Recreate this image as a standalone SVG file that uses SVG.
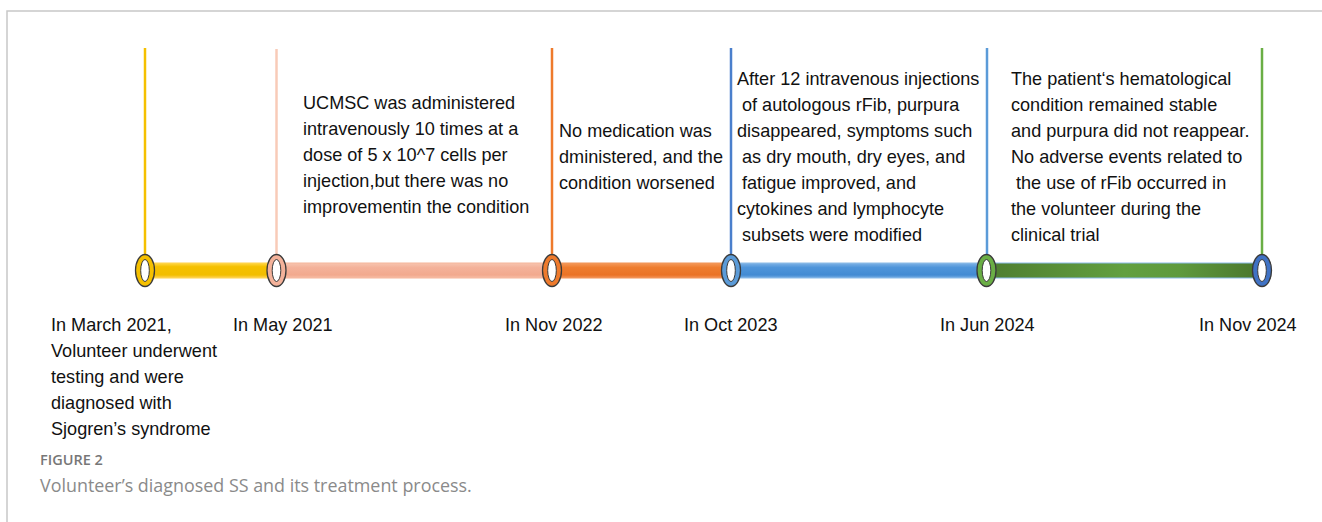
<svg xmlns="http://www.w3.org/2000/svg" width="1322" height="522" viewBox="0 0 1322 522">
  <defs>
    <linearGradient id="gYellow" x1="0" y1="0" x2="0" y2="1">
      <stop offset="0" stop-color="#FFD84A"/>
      <stop offset="0.25" stop-color="#F5C000"/>
      <stop offset="0.8" stop-color="#F2BE00"/>
      <stop offset="1" stop-color="#FFD35A"/>
    </linearGradient>
    <linearGradient id="gSalmon" x1="0" y1="0" x2="0" y2="1">
      <stop offset="0" stop-color="#F7C5B0"/>
      <stop offset="0.3" stop-color="#F4B29A"/>
      <stop offset="0.8" stop-color="#F2A98E"/>
      <stop offset="1" stop-color="#F7BFA8"/>
    </linearGradient>
    <linearGradient id="gOrange" x1="0" y1="0" x2="0" y2="1">
      <stop offset="0" stop-color="#F49A5C"/>
      <stop offset="0.3" stop-color="#EE7D30"/>
      <stop offset="0.8" stop-color="#EA7326"/>
      <stop offset="1" stop-color="#F4945A"/>
    </linearGradient>
    <linearGradient id="gBlue" x1="0" y1="0" x2="0" y2="1">
      <stop offset="0" stop-color="#7FB3E6"/>
      <stop offset="0.3" stop-color="#4F95DA"/>
      <stop offset="0.8" stop-color="#438BD3"/>
      <stop offset="1" stop-color="#78AEE4"/>
    </linearGradient>
    <linearGradient id="gGreen" x1="0" y1="0" x2="1" y2="0">
      <stop offset="0" stop-color="#4E7D30"/>
      <stop offset="0.5" stop-color="#62A040"/>
      <stop offset="0.7" stop-color="#5E9A3D"/>
      <stop offset="1" stop-color="#4A752C"/>
    </linearGradient>
    <style>
      .frame { stroke: #c8c8c8; stroke-width: 1.5; fill: none; }
      .stem { stroke-width: 2.5; fill: none; }
      .bar { stroke-width: 1; }
      .ring { stroke: #3a3a3a; stroke-width: 1.3; }
      .hole { fill: #ffffff; stroke: #3a3a3a; stroke-width: 1; }
      .t { font-family: "Liberation Sans", Arial, sans-serif; font-size: 18.1px; fill: #111111; }
      .cap1 { font-family: "Open Sans", "Noto Sans", sans-serif; font-size: 14.5px; font-weight: 600; fill: #777777; }
      .cap2 { font-family: "Open Sans", "Noto Sans", sans-serif; font-size: 17.9px; fill: #8a8a8a; }
    </style>
  </defs>

  <rect x="0" y="0" width="1322" height="522" fill="#ffffff"/>
  <!-- figure frame -->
  <path class="frame" d="M7,522 V11 H1322"/>

  <!-- connectors: stems and timeline bar segments -->
  <g id="connectors">
    <line class="stem" x1="145" y1="48" x2="145" y2="258" stroke="#F5C000"/>
    <line class="stem" x1="276.5" y1="49" x2="276.5" y2="258" stroke="#F8CBB8"/>
    <line class="stem" x1="552" y1="48" x2="552" y2="258" stroke="#EE7A2C"/>
    <line class="stem" x1="731" y1="48" x2="731" y2="258" stroke="#4A7FCC"/>
    <line class="stem" x1="987" y1="48" x2="987" y2="258" stroke="#5B9BD8"/>
    <line class="stem" x1="1262" y1="48" x2="1262" y2="258" stroke="#6AAE45"/>

    <rect class="bar" x="145" y="263" width="132" height="15" fill="url(#gYellow)" stroke="#FFD24A"/>
    <rect class="bar" x="277" y="263" width="275" height="15" fill="url(#gSalmon)" stroke="#F6B59A"/>
    <rect class="bar" x="552" y="263" width="179" height="15" fill="url(#gOrange)" stroke="#F29356"/>
    <rect class="bar" x="731" y="263" width="256" height="15" fill="url(#gBlue)" stroke="#8BBBE8"/>
    <rect class="bar" x="987" y="263" width="275" height="15" fill="url(#gGreen)" stroke="#8BBBE8"/>
  </g>

  <!-- milestone markers -->
  <g id="m2021-03">
    <ellipse class="ring" cx="145" cy="270.5" rx="9.5" ry="16" fill="#F5C000"/>
    <ellipse class="hole" cx="145" cy="270.5" rx="4.3" ry="11"/>
    <text class="t" x="51" y="331">In March 2021,</text>
    <text class="t" x="51" y="357">Volunteer underwent</text>
    <text class="t" x="51" y="383">testing and were</text>
    <text class="t" x="51" y="409">diagnosed with</text>
    <text class="t" x="51" y="435">Sjogren’s syndrome</text>
  </g>

  <g id="m2021-05">
    <ellipse class="ring" cx="276.5" cy="270.5" rx="9.5" ry="16" fill="#F4B29A"/>
    <ellipse class="hole" cx="276.5" cy="270.5" rx="4.3" ry="11"/>
    <text class="t" x="233" y="331">In May 2021</text>
    <text class="t" x="303" y="109">UCMSC was administered</text>
    <text class="t" x="303" y="135">intravenously 10 times at a</text>
    <text class="t" x="303" y="161">dose of 5 x 10^7 cells per</text>
    <text class="t" x="303" y="187">injection,but there was no</text>
    <text class="t" x="303" y="213">improvementin the condition</text>
  </g>

  <g id="m2022-11">
    <ellipse class="ring" cx="552" cy="270.5" rx="9.5" ry="16" fill="#EE7A2C"/>
    <ellipse class="hole" cx="552" cy="270.5" rx="4.3" ry="11"/>
    <text class="t" x="505" y="331">In Nov 2022</text>
    <text class="t" x="559" y="137">No medication was</text>
    <text class="t" x="559" y="163">dministered, and the</text>
    <text class="t" x="559" y="189">condition worsened</text>
  </g>

  <g id="m2023-10">
    <ellipse class="ring" cx="731" cy="270.5" rx="9.5" ry="16" fill="#5B9BD8"/>
    <ellipse class="hole" cx="731" cy="270.5" rx="4.3" ry="11"/>
    <text class="t" x="684" y="331">In Oct 2023</text>
    <text class="t" x="737" y="85">After 12 intravenous injections</text>
    <text class="t" x="742" y="111">of autologous rFib, purpura</text>
    <text class="t" x="737" y="137">disappeared, symptoms such</text>
    <text class="t" x="742" y="163">as dry mouth, dry eyes, and</text>
    <text class="t" x="742" y="189">fatigue improved, and</text>
    <text class="t" x="737" y="215">cytokines and lymphocyte</text>
    <text class="t" x="742" y="241">subsets were modified</text>
  </g>

  <g id="m2024-06">
    <ellipse class="ring" cx="986.5" cy="270.5" rx="9.5" ry="16" fill="#6AAE45"/>
    <ellipse class="hole" cx="986.5" cy="270.5" rx="4.3" ry="11"/>
    <text class="t" x="940" y="331">In Jun 2024</text>
    <text class="t" x="1011" y="85">The patient‘s hematological</text>
    <text class="t" x="1011" y="111">condition remained stable</text>
    <text class="t" x="1011" y="137">and purpura did not reappear.</text>
    <text class="t" x="1011" y="163">No adverse events related to</text>
    <text class="t" x="1016" y="189">the use of rFib occurred in</text>
    <text class="t" x="1011" y="215">the volunteer during the</text>
    <text class="t" x="1011" y="241">clinical trial</text>
  </g>

  <g id="m2024-11">
    <ellipse class="ring" cx="1262" cy="270.5" rx="9.5" ry="16" fill="#3F72C4"/>
    <ellipse class="hole" cx="1262" cy="270.5" rx="4.3" ry="11"/>
    <text class="t" x="1199" y="331">In Nov 2024</text>
  </g>

  <!-- caption -->
  <g id="caption">
    <text class="cap1" x="40" y="465">FIGURE 2</text>
    <text class="cap2" x="40" y="492">Volunteer’s diagnosed SS and its treatment process.</text>
  </g>
</svg>
